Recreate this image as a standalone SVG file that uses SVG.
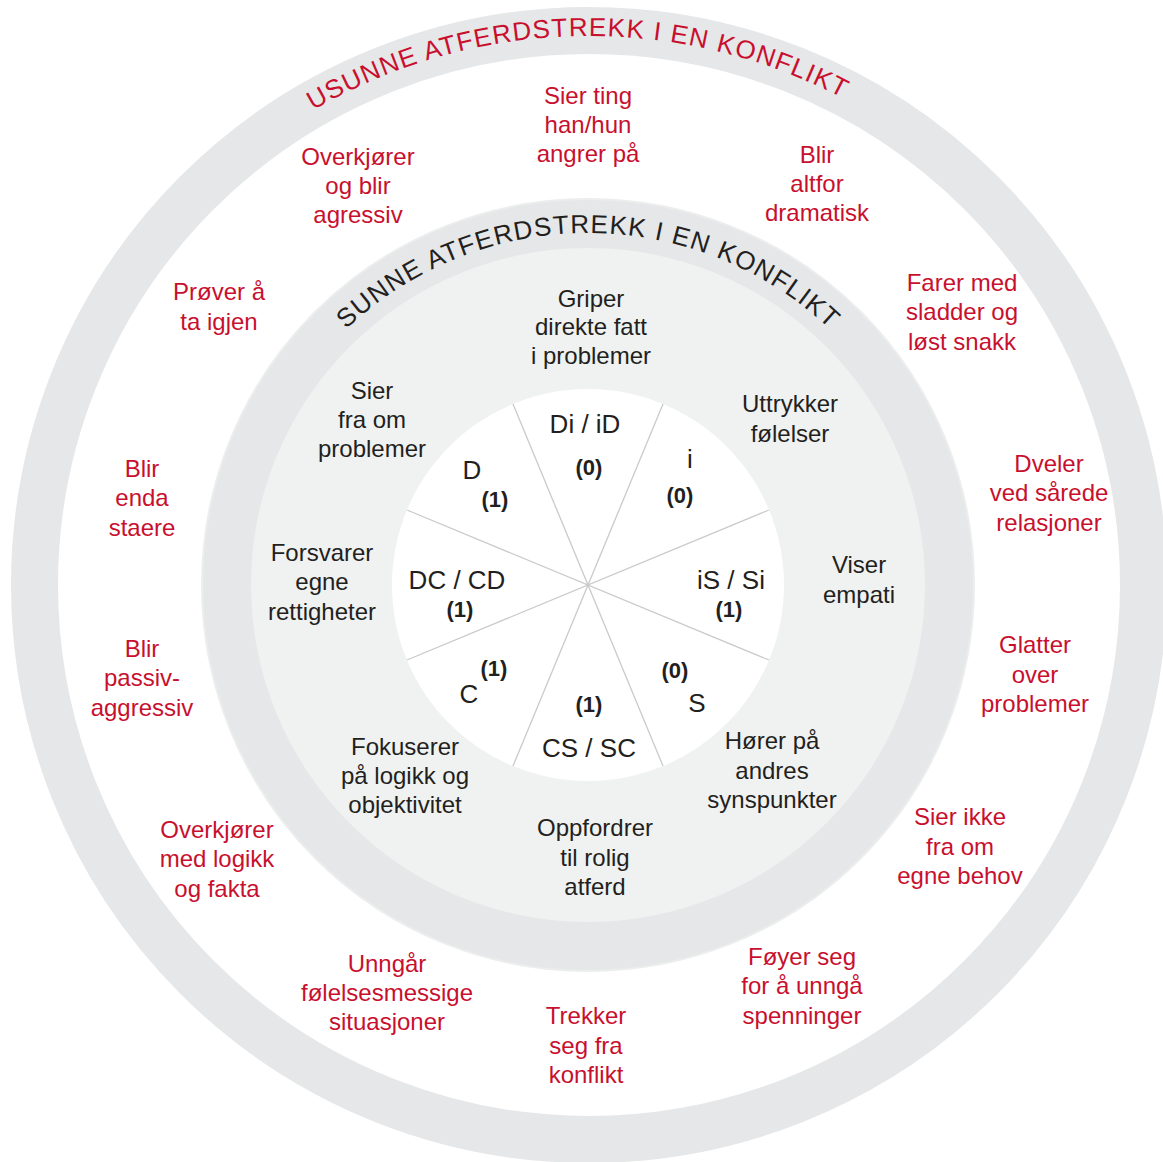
<svg xmlns="http://www.w3.org/2000/svg" width="1163" height="1162" viewBox="0 0 1163 1162">
<style>
text{font-family:"Liberation Sans",Arial,Helvetica,sans-serif;font-size:24px;text-anchor:middle}
.red{fill:#c8102e}
.blk{fill:#231f20}
.lbl{fill:#231f20;font-size:26px}
.num{font-weight:bold;font-size:22px;fill:#231f20}
.arc{font-size:26px;letter-spacing:1.2px}
.div{stroke:#c9cacb;stroke-width:1.3;fill:none}
</style>
<defs>
<path id="arcOuter" d="M 40 585 A 549 549 0 0 1 1138 585"/>
<path id="arcInner" d="M 236 585 A 352 352 0 0 1 940 585"/>
</defs>
<rect width="1163" height="1162" fill="#ffffff"/>
<g id="rings">
<circle cx="589" cy="585" r="554.5" fill="none" stroke="#e6e7e8" stroke-width="47"/>
<circle cx="588" cy="585" r="386" fill="#e6e7e8" stroke="#eceded" stroke-width="2"/>
<circle cx="588" cy="585" r="337" fill="#f0f1f1"/>
<circle cx="588" cy="585" r="196" fill="#ffffff"/>
</g>
<g id="connectors">
<line class="div" x1="513" y1="404" x2="663" y2="766"/>
<line class="div" x1="663" y1="404" x2="513" y2="766"/>
<line class="div" x1="769" y1="510" x2="407" y2="660"/>
<line class="div" x1="769" y1="660" x2="407" y2="510"/>
</g>
<g id="title-outer">
<text class="red arc"><textPath href="#arcOuter" startOffset="850">USUNNE ATFERDSTREKK I EN KONFLIKT</textPath></text>
</g>
<g id="title-inner">
<text class="blk arc"><textPath href="#arcInner" startOffset="553">SUNNE ATFERDSTREKK I EN KONFLIKT</textPath></text>
</g>
<g id="unhealthy">
<g id="u-sier-ting"><text class="red"><tspan x="588" y="104">Sier ting</tspan><tspan x="588" y="133">han/hun</tspan><tspan x="588" y="162">angrer på</tspan></text></g>
<g id="u-overkjorer"><text class="red"><tspan x="358" y="165">Overkjører</tspan><tspan x="358" y="194">og blir</tspan><tspan x="358" y="223">agressiv</tspan></text></g>
<g id="u-dramatisk"><text class="red"><tspan x="817" y="163">Blir</tspan><tspan x="817" y="192">altfor</tspan><tspan x="817" y="221">dramatisk</tspan></text></g>
<g id="u-prover"><text class="red"><tspan x="219" y="300">Prøver å</tspan><tspan x="219" y="330">ta igjen</tspan></text></g>
<g id="u-sladder"><text class="red"><tspan x="962" y="291">Farer med</tspan><tspan x="962" y="320">sladder og</tspan><tspan x="962" y="350">løst snakk</tspan></text></g>
<g id="u-staere"><text class="red"><tspan x="142" y="477">Blir</tspan><tspan x="142" y="506">enda</tspan><tspan x="142" y="536">staere</tspan></text></g>
<g id="u-dveler"><text class="red"><tspan x="1049" y="472">Dveler</tspan><tspan x="1049" y="501">ved sårede</tspan><tspan x="1049" y="531">relasjoner</tspan></text></g>
<g id="u-passiv"><text class="red"><tspan x="142" y="657">Blir</tspan><tspan x="142" y="686">passiv-</tspan><tspan x="142" y="716">aggressiv</tspan></text></g>
<g id="u-glatter"><text class="red"><tspan x="1035" y="653">Glatter</tspan><tspan x="1035" y="683">over</tspan><tspan x="1035" y="712">problemer</tspan></text></g>
<g id="u-logikk"><text class="red"><tspan x="217" y="838">Overkjører</tspan><tspan x="217" y="867">med logikk</tspan><tspan x="217" y="897">og fakta</tspan></text></g>
<g id="u-behov"><text class="red"><tspan x="960" y="825">Sier ikke</tspan><tspan x="960" y="855">fra om</tspan><tspan x="960" y="884">egne behov</tspan></text></g>
<g id="u-unngar"><text class="red"><tspan x="387" y="972">Unngår</tspan><tspan x="387" y="1001">følelsesmessige</tspan><tspan x="387" y="1030">situasjoner</tspan></text></g>
<g id="u-trekker"><text class="red"><tspan x="586" y="1024">Trekker</tspan><tspan x="586" y="1054">seg fra</tspan><tspan x="586" y="1083">konflikt</tspan></text></g>
<g id="u-foyer"><text class="red"><tspan x="802" y="965">Føyer seg</tspan><tspan x="802" y="994">for å unngå</tspan><tspan x="802" y="1024">spenninger</tspan></text></g>
</g>
<g id="healthy">
<g id="h-griper"><text class="blk"><tspan x="591" y="307">Griper</tspan><tspan x="591" y="335">direkte fatt</tspan><tspan x="591" y="364">i problemer</tspan></text></g>
<g id="h-sier"><text class="blk"><tspan x="372" y="399">Sier</tspan><tspan x="372" y="428">fra om</tspan><tspan x="372" y="457">problemer</tspan></text></g>
<g id="h-uttrykker"><text class="blk"><tspan x="790" y="412">Uttrykker</tspan><tspan x="790" y="442">følelser</tspan></text></g>
<g id="h-forsvarer"><text class="blk"><tspan x="322" y="561">Forsvarer</tspan><tspan x="322" y="590">egne</tspan><tspan x="322" y="620">rettigheter</tspan></text></g>
<g id="h-viser"><text class="blk"><tspan x="859" y="573">Viser</tspan><tspan x="859" y="603">empati</tspan></text></g>
<g id="h-fokuserer"><text class="blk"><tspan x="405" y="755">Fokuserer</tspan><tspan x="405" y="784">på logikk og</tspan><tspan x="405" y="813">objektivitet</tspan></text></g>
<g id="h-horer"><text class="blk"><tspan x="772" y="749">Hører på</tspan><tspan x="772" y="779">andres</tspan><tspan x="772" y="808">synspunkter</tspan></text></g>
<g id="h-oppfordrer"><text class="blk"><tspan x="595" y="836">Oppfordrer</tspan><tspan x="595" y="866">til rolig</tspan><tspan x="595" y="895">atferd</tspan></text></g>
</g>
<g id="styles">
<g id="s-di"><text class="lbl" x="585" y="433">Di / iD</text><text class="num" x="589" y="475">(0)</text></g>
<g id="s-d"><text class="lbl" x="472" y="479">D</text><text class="num" x="495" y="507">(1)</text></g>
<g id="s-i"><text class="lbl" x="690" y="468">i</text><text class="num" x="680" y="503">(0)</text></g>
<g id="s-dc"><text class="lbl" x="457" y="589">DC / CD</text><text class="num" x="460" y="617">(1)</text></g>
<g id="s-is"><text class="lbl" x="731" y="589">iS / Si</text><text class="num" x="729" y="617">(1)</text></g>
<g id="s-c"><text class="lbl" x="469" y="703">C</text><text class="num" x="494" y="676">(1)</text></g>
<g id="s-cs"><text class="lbl" x="589" y="757">CS / SC</text><text class="num" x="589" y="712">(1)</text></g>
<g id="s-s"><text class="lbl" x="697" y="712">S</text><text class="num" x="675" y="678">(0)</text></g>
</g>
</svg>
